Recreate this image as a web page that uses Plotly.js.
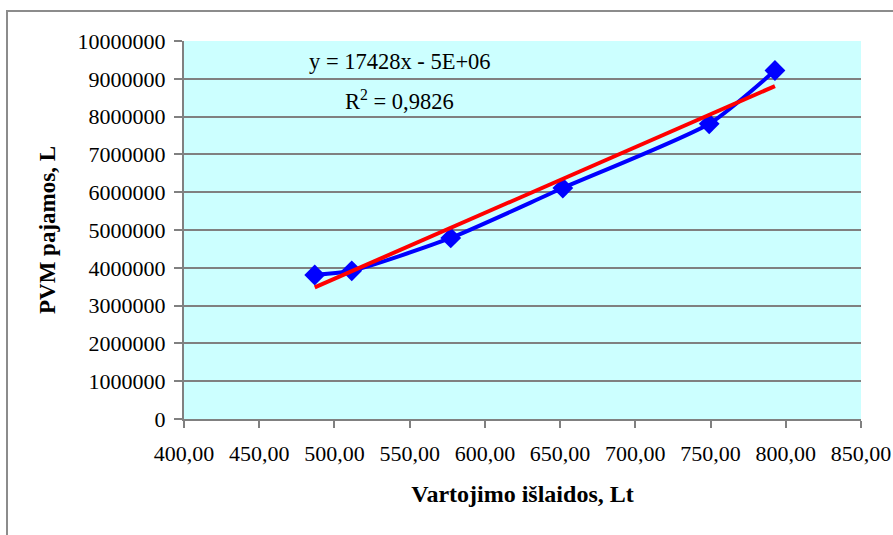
<!DOCTYPE html>
<html>
<head>
<meta charset="utf-8">
<script src="https://cdn.plot.ly/plotly-3.0.1.min.js"></script>
<style>
  html, body { margin: 0; padding: 0; background: #ffffff; }
  #wrap { position: relative; width: 893px; height: 535px; overflow: hidden; }
  #chart { width: 893px; height: 535px; }
  #frame { position: absolute; left: 6px; top: 10px; width: 1000px; height: 1000px;
           border-left: 2px solid #8c8c8c; border-top: 2px solid #8c8c8c; pointer-events: none; }
</style>
</head>
<body>
<div id="wrap">
  <div id="chart"></div>
  <div id="frame"></div>
</div>
<script>
// Data
const consumption = [486.9, 511.5, 577.3, 651.8, 749.1, 792.8];      // Vartojimo išlaidos, Lt
const vatRevenue  = [3810000, 3920000, 4790000, 6110000, 7810000, 9220000]; // PVM pajamos, L
const xTickVals = [400, 450, 500, 550, 600, 650, 700, 750, 800, 850];
const yTickVals = [0, 1000000, 2000000, 3000000, 4000000, 5000000, 6000000, 7000000, 8000000, 9000000, 10000000];
const equationText = "y = 17428x - 5E+06";
const r2Text = "R<sup>2</sup> = 0,9826";
const xTitle = "Vartojimo išlaidos, Lt";
const yTitle = "PVM pajamos, L";

// Linear trendline (least squares, as Excel does)
const n = consumption.length;
const mx = consumption.reduce((a, b) => a + b, 0) / n;
const my = vatRevenue.reduce((a, b) => a + b, 0) / n;
let sxy = 0, sxx = 0;
for (let i = 0; i < n; i++) { sxy += (consumption[i] - mx) * (vatRevenue[i] - my); sxx += (consumption[i] - mx) ** 2; }
const slope = sxy / sxx;
const intercept = my - slope * mx;
const xMin = Math.min(...consumption), xMax = Math.max(...consumption);
const trendX = [xMin, xMax];
const trendY = trendX.map(v => slope * v + intercept);

const serif = "Liberation Serif";

const traces = [
  {
    x: consumption, y: vatRevenue, type: "scatter", mode: "lines+markers",
    line: { color: "#0000FF", width: 4, shape: "spline", smoothing: 0.6 },
    marker: { symbol: "diamond", size: 16, color: "#0000FF", line: { width: 0 } },
    hoverinfo: "skip", showlegend: false
  },
  {
    x: trendX, y: trendY, type: "scatter", mode: "lines",
    line: { color: "#FF0000", width: 4 },
    hoverinfo: "skip", showlegend: false
  }
];

const layout = {
  width: 893, height: 535,
  margin: { l: 184, r: 32, t: 41, b: 115.5, pad: 0 },
  paper_bgcolor: "#ffffff",
  plot_bgcolor: "#CCFFFF",
  separators: ", ",
  font: { family: serif, size: 22, color: "#000000" },
  showlegend: false,
  xaxis: {
    range: [400, 850], tickvals: xTickVals, tickformat: ".2f",
    showgrid: false, zeroline: false,
    showline: true, linecolor: "#808080", linewidth: 2,
    ticks: "outside", ticklen: 7, tickwidth: 2, tickcolor: "#808080",
    ticklabelstandoff: 7,
    tickfont: { family: serif, size: 22, color: "#000000" },
    title: { text: "<b>" + xTitle + "</b>", font: { family: serif, size: 24, color: "#000000" }, standoff: 20 }
  },
  yaxis: {
    range: [0, 10000000], tickvals: yTickVals, tickformat: "d",
    showgrid: true, gridcolor: "#808080", gridwidth: 2,
    zeroline: false,
    showline: true, linecolor: "#808080", linewidth: 2,
    ticks: "outside", ticklen: 8, tickwidth: 2, tickcolor: "#808080",
    ticklabelstandoff: 4,
    tickfont: { family: serif, size: 22, color: "#000000" },
    title: { text: "<b>" + yTitle + "</b>", font: { family: serif, size: 23, color: "#000000" }, standoff: 16 }
  },
  annotations: [
    { xref: "paper", yref: "paper", x: (400 - 184) / 677, y: (419.5 - 62) / 378.5,
      text: equationText, showarrow: false, xanchor: "center", yanchor: "middle",
      font: { family: serif, size: 22.5, color: "#000000" } },
    { xref: "paper", yref: "paper", x: (399 - 184) / 677, y: (419.5 - 100) / 378.5,
      text: r2Text, showarrow: false, xanchor: "center", yanchor: "middle",
      font: { family: serif, size: 22.5, color: "#000000" } }
  ]
};

Plotly.newPlot("chart", traces, layout, { displayModeBar: false, staticPlot: true });
</script>
</body>
</html>
